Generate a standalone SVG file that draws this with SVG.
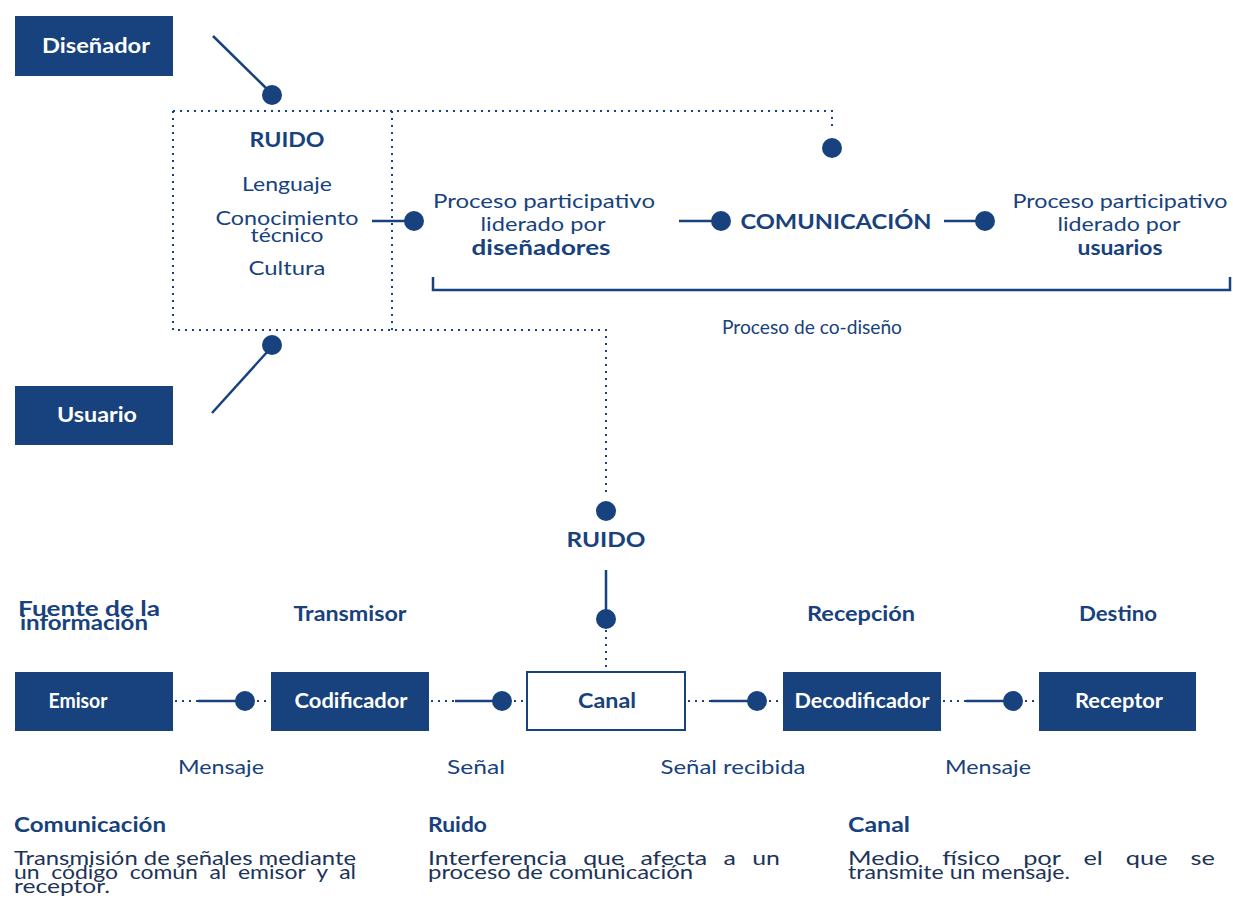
<svg xmlns="http://www.w3.org/2000/svg" width="1233" height="900" viewBox="0 0 1233 900">
<style>
.box{fill:#17427d}
.out{fill:#fff;stroke:#17427d;stroke-width:2}
text{font-family:Lato,"Liberation Sans",sans-serif}
.bl{font-weight:700;font-size:20px;fill:#fff;text-anchor:middle}
.t{font-size:20px;fill:#17427d;text-anchor:middle}
.tb{font-weight:700;font-size:20px;fill:#17427d;text-anchor:middle}
.h{font-weight:700;font-size:20px;fill:#17427d}
.b{font-size:20px;fill:#1c3458}
.dot{stroke:#17427d;stroke-width:2;stroke-dasharray:2 5;fill:none}
.ln{stroke:#17427d;stroke-width:2.5;fill:none}
.d{fill:#17427d}
</style>
<g id="connectors">
<path class="dot" d="M173 111 H832 V130"/>
<path class="dot" d="M173 111 V330 H606 V495"/>
<path class="dot" d="M392 111 V330"/>
<line class="ln" x1="213" y1="36" x2="268" y2="90"/>
<circle class="d" cx="272" cy="95" r="10"/>
<line class="ln" x1="212" y1="413" x2="268" y2="351"/>
<circle class="d" cx="272" cy="345" r="10"/>
<circle class="d" cx="832" cy="148" r="10"/>
<line class="ln" x1="372" y1="221" x2="410" y2="221"/>
<circle class="d" cx="414" cy="221" r="10"/>
<line class="ln" x1="679" y1="221" x2="716" y2="221"/>
<circle class="d" cx="721" cy="221" r="10"/>
<line class="ln" x1="944" y1="221" x2="980" y2="221"/>
<circle class="d" cx="985" cy="221" r="10"/>
<path class="ln" d="M433 277 V290 H1230 V277"/>
<circle class="d" cx="606" cy="511" r="10"/>
<line class="ln" x1="606" y1="570" x2="606" y2="615"/>
<circle class="d" cx="606" cy="619" r="10"/>
<path class="dot" d="M606 630 V690"/>
<path class="dot" d="M175 701 H198"/><line class="ln" x1="198" y1="701" x2="240" y2="701"/><circle class="d" cx="245" cy="701" r="10"/><path class="dot" d="M257 701 H271"/>
<path class="dot" d="M431 701 H455"/><line class="ln" x1="455" y1="701" x2="497" y2="701"/><circle class="d" cx="502" cy="701" r="10"/><path class="dot" d="M514 701 H526"/>
<path class="dot" d="M640 701 H686"/>
<path class="dot" d="M688 701 H711"/><line class="ln" x1="711" y1="701" x2="752" y2="701"/><circle class="d" cx="757" cy="701" r="10"/><path class="dot" d="M769 701 H783"/>
<path class="dot" d="M943 701 H966"/><line class="ln" x1="966" y1="701" x2="1008" y2="701"/><circle class="d" cx="1013" cy="701" r="10"/><path class="dot" d="M1025 701 H1039"/>
</g>
<g id="disenador"><rect class="box" x="15" y="16" width="158" height="60"/><text class="bl" x="96" y="53" textLength="108" lengthAdjust="spacingAndGlyphs">Diseñador</text></g>
<g id="usuario"><rect class="box" x="15" y="386" width="158" height="59"/><text class="bl" x="97" y="422" textLength="80" lengthAdjust="spacingAndGlyphs">Usuario</text></g>
<g id="ruido-box">
<text class="tb" x="287" y="147" textLength="75" lengthAdjust="spacingAndGlyphs">RUIDO</text>
<text class="t" x="287" y="191" textLength="90" lengthAdjust="spacingAndGlyphs">Lenguaje</text>
<text class="t" x="287" y="225" textLength="143" lengthAdjust="spacingAndGlyphs">Conocimiento</text>
<text class="t" x="287" y="242" textLength="73" lengthAdjust="spacingAndGlyphs">técnico</text>
<text class="t" x="287" y="275" textLength="77" lengthAdjust="spacingAndGlyphs">Cultura</text>
</g>
<g id="proc-dis">
<text class="t" x="544" y="208" textLength="222" lengthAdjust="spacingAndGlyphs">Proceso participativo</text>
<text class="t" x="543" y="231" textLength="125" lengthAdjust="spacingAndGlyphs">liderado por</text>
<text class="tb" x="541" y="255" textLength="139" lengthAdjust="spacingAndGlyphs">diseñadores</text>
</g>
<g id="comunicacion"><text class="tb" x="836" y="229" textLength="191" lengthAdjust="spacingAndGlyphs">COMUNICACIÓN</text></g>
<g id="proc-usu">
<text class="t" x="1120" y="208" textLength="215" lengthAdjust="spacingAndGlyphs">Proceso participativo</text>
<text class="t" x="1119" y="231" textLength="123" lengthAdjust="spacingAndGlyphs">liderado por</text>
<text class="tb" x="1120" y="255" textLength="85" lengthAdjust="spacingAndGlyphs">usuarios</text>
</g>
<g id="codiseno"><text class="t" x="812" y="334" textLength="180" lengthAdjust="spacingAndGlyphs">Proceso de co-diseño</text></g>
<g id="ruido2"><text class="tb" x="606" y="547" textLength="79" lengthAdjust="spacingAndGlyphs">RUIDO</text></g>
<g id="fuente"><text class="h" x="18" y="616" textLength="142" lengthAdjust="spacingAndGlyphs">Fuente de la</text><text class="h" x="20" y="630" textLength="128" lengthAdjust="spacingAndGlyphs">información</text></g>
<g id="transmisor"><text class="tb" x="350" y="621" textLength="113" lengthAdjust="spacingAndGlyphs">Transmisor</text></g>
<g id="recepcion"><text class="tb" x="861" y="621" textLength="108" lengthAdjust="spacingAndGlyphs">Recepción</text></g>
<g id="destino"><text class="tb" x="1118" y="621" textLength="78" lengthAdjust="spacingAndGlyphs">Destino</text></g>
<g id="emisor"><rect class="box" x="15" y="672" width="158" height="59"/><text class="bl" x="78" y="708" textLength="59" lengthAdjust="spacingAndGlyphs">Emisor</text></g>
<g id="codificador"><rect class="box" x="271" y="672" width="158" height="59"/><text class="bl" x="351" y="708" textLength="113" lengthAdjust="spacingAndGlyphs">Codificador</text></g>
<g id="canal"><rect class="out" x="527" y="672" width="158" height="58"/><text class="tb" x="607" y="708" textLength="58" lengthAdjust="spacingAndGlyphs">Canal</text></g>
<g id="decodificador"><rect class="box" x="783" y="672" width="158" height="59"/><text class="bl" x="862" y="708" textLength="135" lengthAdjust="spacingAndGlyphs">Decodificador</text></g>
<g id="receptor"><rect class="box" x="1039" y="672" width="157" height="59"/><text class="bl" x="1119" y="708" textLength="88" lengthAdjust="spacingAndGlyphs">Receptor</text></g>
<g id="labels">
<text class="t" x="221" y="774" textLength="86" lengthAdjust="spacingAndGlyphs">Mensaje</text>
<text class="t" x="476" y="774" textLength="58" lengthAdjust="spacingAndGlyphs">Señal</text>
<text class="t" x="733" y="774" textLength="145" lengthAdjust="spacingAndGlyphs">Señal recibida</text>
<text class="t" x="988" y="774" textLength="86" lengthAdjust="spacingAndGlyphs">Mensaje</text>
</g>
<g id="def-com">
<text class="h" x="14" y="832" textLength="152" lengthAdjust="spacingAndGlyphs">Comunicación</text>
<text class="b" x="14" y="865" textLength="342" lengthAdjust="spacingAndGlyphs">Transmisión de señales mediante</text>
<text class="b" x="14" y="879" textLength="342" lengthAdjust="spacingAndGlyphs" style="word-spacing:5px">un código común al emisor y al</text>
<text class="b" x="14" y="893" textLength="96" lengthAdjust="spacingAndGlyphs">receptor.</text>
</g>
<g id="def-ruido">
<text class="h" x="428" y="832" textLength="59" lengthAdjust="spacingAndGlyphs">Ruido</text>
<text class="b" x="428" y="865" textLength="352" lengthAdjust="spacingAndGlyphs" style="word-spacing:8px">Interferencia que afecta a un</text>
<text class="b" x="428" y="879" textLength="265" lengthAdjust="spacingAndGlyphs">proceso de comunicación</text>
</g>
<g id="def-canal">
<text class="h" x="848" y="832" textLength="62" lengthAdjust="spacingAndGlyphs">Canal</text>
<text class="b" x="848" y="865" textLength="367" lengthAdjust="spacingAndGlyphs" style="word-spacing:13px">Medio físico por el que se</text>
<text class="b" x="848" y="879" textLength="222" lengthAdjust="spacingAndGlyphs">transmite un mensaje.</text>
</g>
</svg>
